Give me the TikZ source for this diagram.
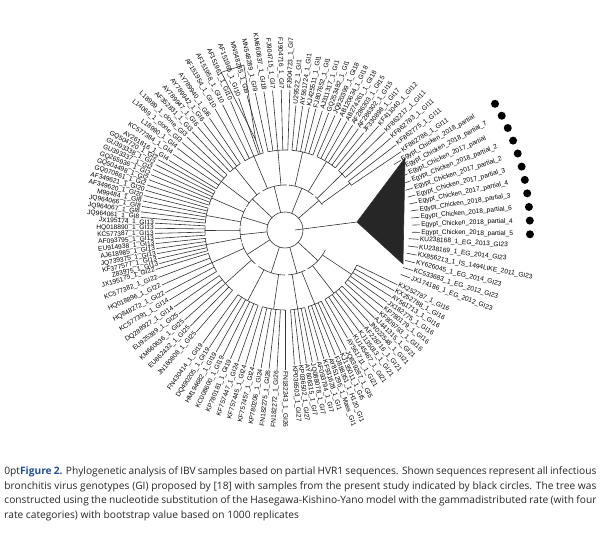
\documentclass[tikz,border=0pt]{standalone}
\usepackage{fontspec}
\setmainfont{Liberation Sans}
\newfontfamily\capfont{Open Sans}
\usetikzlibrary{positioning}
\definecolor{capblue}{RGB}{30,80,150}
\tikzset{
  branch/.style={draw=black!80, line width=0.3pt},
  leaf/.style={font=\fontsize{3.3}{3.3}\selectfont, inner sep=0.5pt},
  studydot/.style={circle, fill=black, inner sep=0pt, minimum size=4pt}
}
% one clade: start angle, end angle, leaf radius, number of leaves, leaf labels
\newcommand\drawclade[5]{%
  \pgfmathsetmacro\cst{(#2-#1)/(#4-1)}
  \pgfmathsetmacro\cmid{(#1+#2)/2}
  \pgfmathtruncatemacro\chalf{floor((#4-1)/2)}
  \pgfmathsetmacro\cha{#1+\chalf*\cst}
  \pgfmathsetmacro\chb{#1+(\chalf+1)*\cst}
  \pgfmathsetmacro\cma{(#1+\cha)/2}
  \pgfmathsetmacro\cmb{(\chb+#2)/2}
  \draw[branch] (\cmid:18) -- (\cmid:45);
  \draw[branch] (#1:45) arc[start angle=#1, end angle=#2, radius=45];
  \draw[branch] (\cma:45) -- (\cma:80);
  \draw[branch] (\cmb:45) -- (\cmb:80);
  \draw[branch] (#1:80) arc[start angle=#1, end angle=\cha, radius=80];
  \draw[branch] (\chb:80) arc[start angle=\chb, end angle=#2, radius=80];
  \foreach \t [count=\i] in {#5} {
    \pgfmathsetmacro\ang{#1+(\i-1)*\cst}
    \pgfmathtruncatemacro\isright{cos(\ang)>=0 ? 1 : 0}
    \ifnum\isright=1
      \draw[branch] (\ang:80) -- (\ang:#3) node[leaf, anchor=west, rotate=\ang] {\t};
    \else
      \pgfmathsetmacro\rang{\ang+180}
      \draw[branch] (\ang:80) -- (\ang:#3) node[leaf, anchor=east, rotate=\rang] {\t};
    \fi
  }
}
\begin{document}
\catcode`\_=12
\begin{tikzpicture}[x=0.5pt, y=0.5pt]
\useasboundingbox (-285,230) rectangle (315,-305);

% root
\draw[branch] (0,0) circle[radius=18];

\drawclade{48}{34}{140}{5}{KF411040_1_GI12,KF862217_1_GI11,KF862783_1_GI11,KF862775_1_GI11,KF862786_1_GI11}
\drawclade{-26}{-60}{125}{12}{KX252787_1_GI16,KX252788_1_GI16,AY561713_1_GI16,JX182775_1_GI16,KP780179_1_GI16,KF809793_1_GI16,AJ441315_1_GI21,JN022548_1_GI21,AF228716_1_GI21,KJ135013_1_GI21,KU145467_1_GI21,AY561711_1_GI21}
\drawclade{-63}{-86}{135}{10}{JQ839287_1_GI5,KJ135011_1_GI5,FJ888351_1_H120_GI1,AY851295_1_Mass_GI1,KF931628_1_GI1,AF093794_1_GI7,JQ088078_1_GI7,AY606315_1_GI7,KP036502_1_GI27,KP036503_1_GI27}
\drawclade{-90}{-126}{140}{12}{FN182243_1_GI26,FN182272_1_GI26,FN182275_1_GI26,KP780206_1_GI24,KF757457_1_GI24,KF757445_1_GI24,KF757447_1_GI24,KP780181_1_GI19,KC008600_1_GI19,HM194682_1_GI19,DQ490205_1_GI19,FN430414_1_GI19}
\drawclade{229}{197}{135}{10}{JN160808_1_GI25,EU862432_1_GI25,KM660636_1_GI25,EU925389_1_GI25,DQ288927_1_GI14,KC577391_1_GI14,HQ848272_1_GI22,HQ018896_1_GI22,KC577382_1_GI22,JX195175_1_GI22}
\drawclade{195}{177}{130}{9}{Z83975_1_GI13,KF377577_1_GI13,JQ739375_1_GI13,AJ618985_1_GI13,EU914938_1_GI13,AF093795_1_GI13,KC577387_1_GI13,HQ018890_1_GI13,JX195174_1_GI13}
\drawclade{175}{151}{145}{12}{JQ964061_1_GI8,JQ964067_1_GI8,JQ964066_1_GI8,M99484_1_GI8,AF349620_1_GI20,AF349621_1_GI20,GQ070861_1_GI2,GQ504498_1_GI2,GQ265936_1_GI2,GU393337_1_GI2,GU393338_1_GI2,GQ504720_1_GI2}
\drawclade{149}{124}{135}{9}{AY261816_1_GI4,KC577384_1_GI4,L18990_1_GI4,L14069_1_clone_GI3,L18989_1_clone_GI3,AF352831_1_GI3,AY789947_1_GI6,AY789942_1_GI6,AY789940_1_GI6}
\drawclade{120}{88}{140}{10}{AF151954_1_GI10,AF151958_1_GI10,AF151961_1_GI10,AF151965_1_GI10,MN548285_1_GI9,MN548289_1_GI9,KM660637_1_GI18,FJ904715_1_GI7,FJ904716_1_GI7,FJ904723_1_GI7}
\drawclade{85}{51}{125}{12}{U29522_1_GI1,AY561724_1_GI1,KJ425511_1_GI1,FJ807652_1_GI1,AJ311317_1_GI1,GQ253482_1_GI1,JQ920399_1_GI18,AB120634_1_GI18,AB274261_1_GI18,AF286303_1_GI15,AF286302_1_GI15,JF330898_1_GI17}

% collapsed clade at the top
\draw[branch] (108:80) -- (108:95);
\draw[branch] (108:95) -- (104:170) -- (112:170) -- cycle;

% study samples
\draw[branch, fill=black!85] (72,8) coordinate (ta) -- (120,72) coordinate (tb) -- (118,-34) coordinate (tc) -- cycle;
\draw[branch] (10,0) -- (ta);
\foreach \t [count=\i] in {Egypt_Chicken_2018_partial,Egypt_Chicken_2018_partial_7,Egypt_Chicken_2017_partial,Egypt_Chicken_2018_partial_2,Egypt_Chicken_2017_partial_2,Egypt_Chicken_2017_partial_3,Egypt_Chicken_2017_partial_4,Egypt_Chicken_2018_partial_3,Egypt_Chicken_2018_partial_6,Egypt_Chicken_2018_partial_4,Egypt_Chicken_2018_partial_5} {
  \pgfmathsetmacro\ang{31-(\i-1)*3.2}
  \draw[branch] (\ang:127) -- (\ang:135) node[leaf, anchor=west, rotate=\ang] (chk\i) {\t};
  \node[studydot] (dot\i) at (\ang:245) {};
}
\foreach \t [count=\i] in {KU238168_1_EG_2013_GI23,KU238169_1_EG_2014_GI23,KX856213_1_IS_1494LIKE_2011_GI23,KY626045_1_EG_2014_GI23,KC533683_1_EG_2012_GI23,JX174186_1_EG_2012_GI23} {
  \pgfmathsetmacro\ang{-4-(\i-1)*3.4}
  \draw[branch] (\ang:124) -- (\ang:134) node[leaf, anchor=west, rotate=\ang] (egy\i) {\t};
}

% caption
\node[anchor=north west, text width=296pt, align=justify, inner sep=0pt,
  font=\capfont\fontsize{5.1}{7.4}\selectfont\hyphenpenalty=10000, text=black!85] (caption) at (-281,-236)
  {\textcolor{capblue}{\textbf{Figure 2.}} Phylogenetic analysis of IBV samples based on partial HVR1 sequences. Shown sequences represent all infectious bronchitis virus genotypes (GI) proposed by [18] with samples from the present study indicated by black circles. The tree was constructed using the nucleotide substitution of the Hasegawa-Kishino-Yano model with the gammadistributed rate (with four rate categories) with bootstrap value based on 1000 replicates};
\end{tikzpicture}
\end{document}
